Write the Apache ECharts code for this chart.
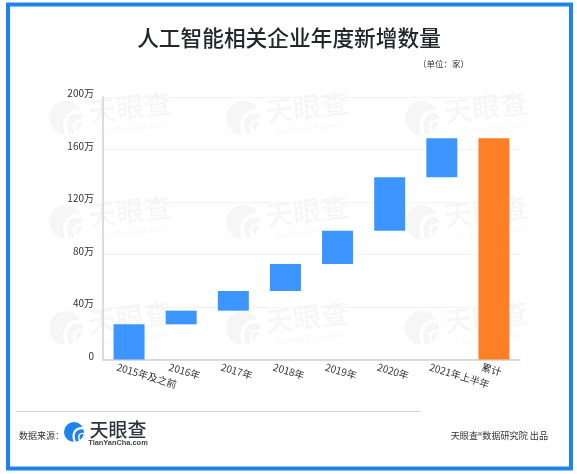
<!DOCTYPE html>
<html>
  <head>
    <meta charset="UTF-8" />
    <title>人工智能相关企业年度新增数量</title>
    <style>
      html, body { margin: 0; padding: 0; background: #fff; }
      #main { width: 577px; height: 474px; }
    </style>
  </head>
  <body>
    <div id="main"></div>
    <script src="https://cdn.jsdelivr.net/npm/echarts@6/dist/echarts.min.js"></script>
    <script>
      const categories = ['2015年及之前', '2016年', '2017年', '2018年', '2019年', '2020年', '2021年上半年', '累计']
      // 单位：万家
      const baseValues = [0, 26.8, 37.2, 52.2, 72.8, 98.1, 138.8, 0]
      const addedValues = [26.8, 10.4, 15, 20.6, 25.3, 40.7, 29.7, '-']
      const totalValues = ['-', '-', '-', '-', '-', '-', '-', 168.5]

      const font = '"Noto Sans CJK SC", "Noto Sans", sans-serif'

      // 天眼查 logo: a round mark with white swooshes
      function logoMark(cx, cy, r, color, z) {
        let swoosh = function (x1, y1, cpx1, cpy1, cpx2, cpy2, x2, y2, w) {
          return {
            type: 'bezierCurve',
            z: z,
            silent: true,
            shape: {
              x1: cx + x1 * r, y1: cy + y1 * r,
              cpx1: cx + cpx1 * r, cpy1: cy + cpy1 * r,
              cpx2: cx + cpx2 * r, cpy2: cy + cpy2 * r,
              x2: cx + x2 * r, y2: cy + y2 * r,
            },
            style: { stroke: '#fff', lineWidth: w * r, fill: null },
          }
        }
        return [
          { type: 'circle', z: z, silent: true, shape: { cx: cx, cy: cy, r: r }, style: { fill: color } },
          swoosh(1.05, -0.35, 0.2, -0.55, -0.3, 0.1, 0.1, 1.05, 0.22),
          swoosh(1.1, 0.2, 0.6, 0, 0.3, 0.35, 0.6, 0.95, 0.14),
        ]
      }

      function watermark(x, y) {
        return [
          ...logoMark(x, y, 17, '#f6f6f6', -2),
          {
            type: 'text', z: -2, silent: true, x: x + 64, y: y - 11, rotation: 0.12,
            style: { text: '天眼查', font: '500 28px ' + font, fill: '#f6f6f6', align: 'center', verticalAlign: 'middle' },
          },
          {
            type: 'text', z: -2, silent: true, x: x + 67, y: y + 10, rotation: 0.12,
            style: { text: 'TianYanCha.com', font: '9px ' + font, fill: '#f7f7f7', align: 'center', verticalAlign: 'middle' },
          },
        ]
      }

      let marks = []
      ;[118, 222, 328].forEach((y) => {
        ;[66, 243, 422].forEach((x) => {
          marks = marks.concat(watermark(x, y))
        })
      })

      const chart = echarts.init(document.getElementById('main'))
      chart.setOption({
        backgroundColor: '#fff',
        animation: false,
        textStyle: { fontFamily: font },
        title: {
          text: '人工智能相关企业年度新增数量',
          left: 284,
          top: 22,
          textAlign: 'center',
          textStyle: { fontSize: 21.7, fontWeight: 500, color: '#23262b', fontFamily: font },
        },
        grid: [
          { left: 103, right: 57, top: 97, bottom: 114.5 },
          // labels only: the reference starts each label left of its bar centre
          { left: 91, right: 69, top: 97, bottom: 114.5 },
        ],
        xAxis: [
          {
            type: 'category',
            gridIndex: 0,
            data: categories,
            axisLine: { lineStyle: { color: '#d0d0d0', width: 1.5 } },
            axisTick: { show: false },
            axisLabel: { show: false },
          },
          {
            type: 'category',
            gridIndex: 1,
            data: categories,
            axisLine: { show: false },
            axisTick: { show: false },
            axisLabel: {
              interval: 0,
              rotate: -17,
              margin: 7,
              fontSize: 10,
              color: '#333',
              fontFamily: font,
            },
          },
        ],
        yAxis: [
          {
            type: 'value',
            gridIndex: 0,
            min: 0,
            max: 200,
            interval: 40,
            axisLine: { show: true, lineStyle: { color: '#d0d0d0', width: 1.5 } },
            axisTick: { show: false },
            splitLine: { lineStyle: { color: '#f3f3f3', width: 1 } },
            axisLabel: {
              margin: 9,
              fontSize: 10,
              color: '#333',
              verticalAlign: 'bottom',
              lineHeight: 7,
              fontFamily: font,
              formatter: (v) => (v > 0 ? v + '万' : '' + v),
            },
          },
          { type: 'value', gridIndex: 1, min: 0, max: 200, show: false },
        ],
        series: [
          {
            type: 'bar',
            stack: 'all',
            barWidth: 31,
            silent: true,
            data: baseValues,
            itemStyle: { color: 'transparent' },
          },
          {
            type: 'bar',
            stack: 'all',
            barWidth: 31,
            data: addedValues,
            itemStyle: { color: '#3d96ff' },
          },
          {
            type: 'bar',
            stack: 'all',
            barWidth: 31,
            data: totalValues,
            itemStyle: { color: '#ff7f26' },
          },
        ],
        graphic: {
          elements: [
            ...marks,
            {
              type: 'rect',
              silent: true,
              z: 10,
              shape: { x: 8, y: 4.5, width: 563, height: 464 },
              style: { fill: null, stroke: '#1f83ee', lineWidth: 4 },
            },
            {
              type: 'text',
              x: 418,
              y: 64,
              style: { text: '（单位：家）', font: '8.5px ' + font, fill: '#333', verticalAlign: 'middle' },
            },
            {
              type: 'line',
              silent: true,
              shape: { x1: 16, y1: 411.5, x2: 421, y2: 411.5 },
              style: { stroke: '#d6d6d6', lineWidth: 1 },
            },
            {
              type: 'text',
              x: 19,
              y: 436,
              style: { text: '数据来源：', font: '9px ' + font, fill: '#333', verticalAlign: 'middle' },
            },
            ...logoMark(74, 432, 10, '#1f83ee', 5),
            {
              type: 'text',
              x: 118,
              y: 430,
              z: 5,
              style: { text: '天眼查', font: '500 19px ' + font, fill: '#2f3640', align: 'center', verticalAlign: 'middle' },
            },
            {
              type: 'text',
              x: 118,
              y: 443,
              z: 5,
              style: { text: 'TianYanCha.com', font: 'bold 7.4px "Liberation Sans", sans-serif', fill: '#444', align: 'center', verticalAlign: 'middle' },
            },
            {
              type: 'text',
              x: 548,
              y: 436,
              style: {
                text: '{a|天眼查}{r|®}{a|数据研究院 出品}',
                align: 'right',
                verticalAlign: 'middle',
                rich: {
                  a: { fontSize: 9.1, fontFamily: font, fill: '#333', color: '#333' },
                  r: { fontSize: 9, fontFamily: font, fill: '#333', color: '#333', verticalAlign: 'top' },
                },
              },
            },
          ],
        },
      })
    </script>
  </body>
</html>
